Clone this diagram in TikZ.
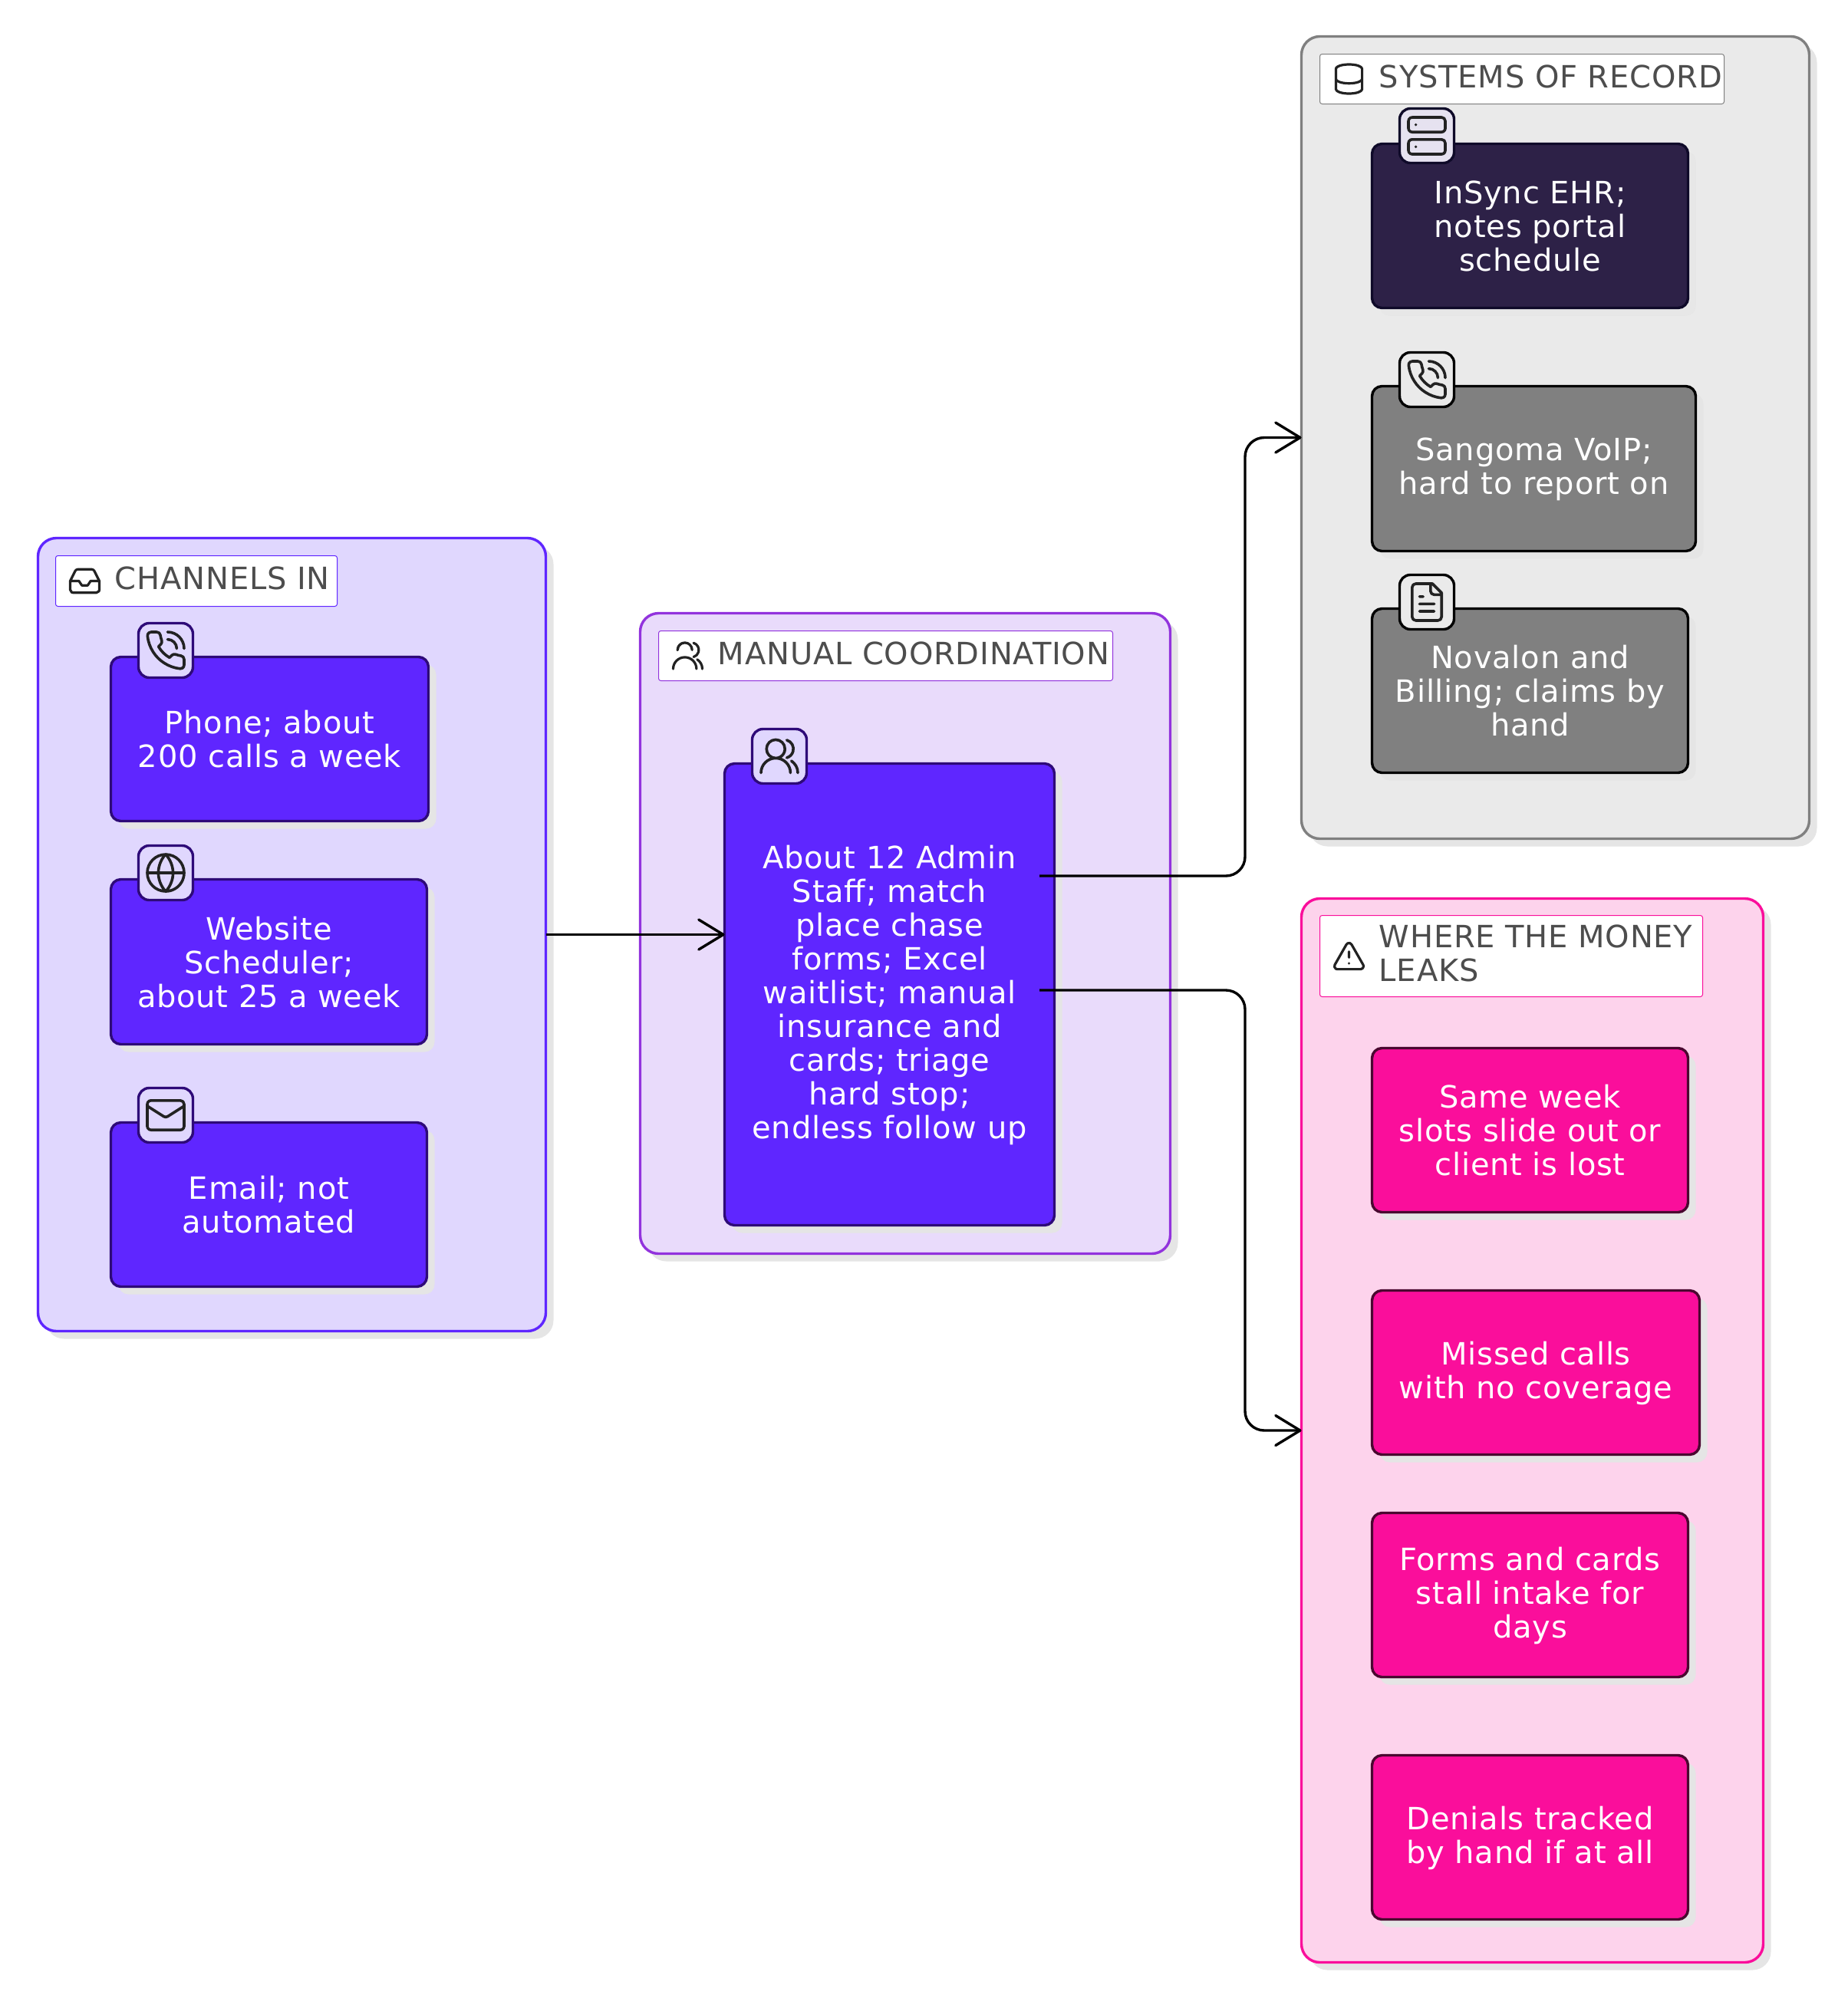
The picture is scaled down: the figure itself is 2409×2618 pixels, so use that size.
\documentclass[tikz,border=0pt]{standalone}
\usepackage{fontspec}
\setmainfont{DejaVu Sans}[LetterSpace=2]
\usetikzlibrary{arrows.meta,shadows,svg.path}
\definecolor{shadowc}{HTML}{E5E5E5}
\definecolor{vio}{HTML}{5F26FF}
\definecolor{vioD}{HTML}{2E0A78}
\definecolor{vioL}{HTML}{E0D7FE}
\definecolor{purL}{HTML}{E9DBFB}
\definecolor{pur}{HTML}{9233DD}
\definecolor{gryL}{HTML}{EAEAEA}
\definecolor{gry}{HTML}{808080}
\definecolor{navy}{HTML}{2D2147}
\definecolor{navyD}{HTML}{0F0A29}
\definecolor{navyI}{HTML}{E6E2F0}
\definecolor{pnk}{HTML}{FA0E9B}
\definecolor{pnkL}{HTML}{FDD3EC}
\definecolor{pnkD}{HTML}{4A0830}
\definecolor{labtxt}{HTML}{4D4D4D}
\definecolor{icn}{HTML}{222222}
\tikzset{
  cont/.style={draw=#1,line width=1.7pt,rounded corners=12pt,outer sep=0pt,inner sep=0pt,
    general shadow={fill=shadowc,shadow xshift=5pt,shadow yshift=-5pt}},
  card/.style={line width=1.7pt,rounded corners=6.5pt,outer sep=0pt,inner sep=0pt,text=white,align=center,
    font=\fontsize{20pt}{22pt}\selectfont,
    general shadow={fill=shadowc,shadow xshift=5pt,shadow yshift=-5pt}},
  lab/.style={fill=white,draw=#1,line width=0.5pt,rounded corners=1.5pt,outer sep=0pt,inner sep=0pt},
  labtext/.style={text=labtxt,align=left,inner sep=0pt,font=\fontsize{20pt}{22pt}\selectfont},
  ibox/.style 2 args={fill=#1,draw=#2,line width=1.7pt,rounded corners=7pt,minimum size=35.5pt,inner sep=0pt,outer sep=0pt},
  ic/.style={draw=icn,line width=#1,line cap=round,line join=round},
  ic/.default=1.7pt,
  edge/.style={draw=black,line width=1.7pt,rounded corners=12.5pt,-{Straight Barb[length=16pt,width=19.5pt,round,line width=1.7pt]}}
}
\newcommand{\TT}[1]{\rule{0pt}{16pt}#1\rule[-1pt]{0pt}{1pt}}
\newcommand{\boxat}[7]{%
  \pgfmathsetmacro\cxv{(#3+#5)/2}\pgfmathsetmacro\cyv{(#4+#6)/2}%
  \pgfmathsetmacro\wv{(#5-#3-3)/2}\pgfmathsetmacro\hv{(#6-#4-3)/2}%
  \node[#1,minimum width=\wv pt,minimum height=\hv pt] (#2) at (\cxv,\cyv) {#7};}
% glyphs in a 24 unit box, y downward
\newcommand{\gPhone}[1]{\draw[ic=#1] svg {M13 2a9 9 0 0 1 9 9M13 6a5 5 0 0 1 5 5M22 16.92v3a2 2 0 0 1 -2.18 2 19.79 19.79 0 0 1 -8.63 -3.07 19.5 19.5 0 0 1 -6 -6 19.79 19.79 0 0 1 -3.07 -8.67A2 2 0 0 1 4.11 2h3a2 2 0 0 1 2 1.72 12.84 12.84 0 0 0 0.7 2.81 2 2 0 0 1 -0.45 2.11L8.09 9.91a16 16 0 0 0 6 6l1.27 -1.27a2 2 0 0 1 2.11 -0.45 12.84 12.84 0 0 0 2.81 0.7A2 2 0 0 1 22 16.92z};}
\newcommand{\gGlobe}[1]{\draw[ic=#1] svg {M2 12a10 10 0 1 0 20 0a10 10 0 1 0 -20 0zM2 12h20M12 2a15.3 15.3 0 0 1 4 10 15.3 15.3 0 0 1 -4 10 15.3 15.3 0 0 1 -4 -10 15.3 15.3 0 0 1 4 -10z};}
\newcommand{\gMail}[1]{\draw[ic=#1] svg {M4 4h16a2 2 0 0 1 2 2v12a2 2 0 0 1 -2 2H4a2 2 0 0 1 -2 -2V6a2 2 0 0 1 2 -2zM22 7l-8.97 5.7a1.94 1.94 0 0 1 -2.06 0L2 7};}
\newcommand{\gUsers}[1]{\draw[ic=#1] svg {M5 8a5 5 0 1 0 10 0a5 5 0 1 0 -10 0zM2 21a8 8 0 0 1 16 0M16 3.2a5 5 0 0 1 0 9.6M22 21c0 -3 -1.5 -5 -3.5 -6.5};}
\newcommand{\gInbox}[1]{\draw[ic=#1] svg {M22 12H16L14 15H10L8 12H2M5.45 5.11L2 12v6a2 2 0 0 0 2 2h16a2 2 0 0 0 2 -2v-6l-3.45 -6.89A2 2 0 0 0 16.76 4H7.24a2 2 0 0 0 -1.79 1.11z};}
\newcommand{\gDb}[1]{\draw[ic=#1] svg {M3 5a9 3 0 1 0 18 0a9 3 0 1 0 -18 0zM3 5V19A9 3 0 0 0 21 19V5M3 12A9 3 0 0 0 21 12};}
\newcommand{\gServer}[1]{\draw[ic=#1] svg {M4 2h16a2 2 0 0 1 2 2v4a2 2 0 0 1 -2 2H4a2 2 0 0 1 -2 -2V4a2 2 0 0 1 2 -2zM4 14h16a2 2 0 0 1 2 2v4a2 2 0 0 1 -2 2H4a2 2 0 0 1 -2 -2v-4a2 2 0 0 1 2 -2zM6 6h0.01M6 18h0.01};}
\newcommand{\gFile}[1]{\draw[ic=#1] svg {M15 2H6a2 2 0 0 0 -2 2v16a2 2 0 0 0 2 2h12a2 2 0 0 0 2 -2V7zM14 2v4a2 2 0 0 0 2 2h4M10 9H8M16 13H8M16 17H8};}
\newcommand{\gWarn}[1]{\draw[ic=#1] svg {M21.73 18l-8 -14a2 2 0 0 0 -3.48 0l-8 14A2 2 0 0 0 4 21h16a2 2 0 0 0 1.73 -3M12 9v4M12 17h0.01};}
% icon badge: fill, border, name, cx, cy, glyph
\newcommand{\badge}[6]{%
  \node[ibox={#1}{#2}] (#3) at (#4,#5) {};
  \begin{scope}[shift={(#4,#5)},xscale=1.2,yscale=-1.2,shift={(-12pt,-12pt)}]#6{1.8pt}\end{scope}}
% label: colour, name, x1,y1,x2,y2, glyph, text
\newcommand{\labelbar}[8]{%
  \boxat{lab=#1}{#2}{#3}{#4}{#5}{#6}{}
  \node[labtext,anchor=west] (#2t) at ([shift={(77,-4)}]#2.west) {\TT{#8}};
  \begin{scope}[shift={([xshift=19pt]#2.west)},xscale=0.95,yscale=-0.95,shift={(-12pt,-12pt)}]#7{1.6pt}\end{scope}}
\begin{document}
\begin{tikzpicture}[x=0.5pt,y=-0.5pt]
\useasboundingbox (0,0) rectangle (2409,2618);
% containers
\boxat{cont=vio,fill=vioL}{channels}{48}{700}{713}{1737}{}
\boxat{cont=pur,fill=purL}{manual}{833}{798}{1527}{1636}{}
\boxat{cont=gry,fill=gryL}{systems}{1695}{46}{2360}{1095}{}
\boxat{cont=pnk,fill=pnkL}{leaks}{1695}{1170}{2300}{2560}{}
% labels
\labelbar{vio}{labA}{71}{723}{441}{792}{\gInbox}{CHANNELS IN}
\labelbar{pur}{labB}{857}{821}{1452}{889}{\gUsers}{MANUAL COORDINATION}
\labelbar{gry}{labC}{1719}{69}{2249}{137}{\gDb}{SYSTEMS OF RECORD}
\labelbar{pnk}{labD}{1719}{1192}{2221}{1301}{\gWarn}{WHERE THE MONEY\\LEAKS}
% channel cards
\boxat{card,fill=vio,draw=vioD}{phone}{143}{855}{560}{1072}{\TT{Phone; about\\200 calls a week}}
\boxat{card,fill=vio,draw=vioD}{web}{143}{1145}{558}{1363}{\TT{Website\\Scheduler;\\about 25 a week}}
\boxat{card,fill=vio,draw=vioD}{email}{143}{1462}{558}{1679}{\TT{Email; not\\automated}}
\badge{vioL}{vioD}{phoneI}{216}{848}{\gPhone}
\badge{vioL}{vioD}{webI}{216}{1138}{\gGlobe}
\badge{vioL}{vioD}{emailI}{216}{1454}{\gMail}
% coordination card
\boxat{card,fill=vio,draw=vioD}{mc}{943}{994}{1376}{1599}{\TT{About 12 Admin\\Staff; match\\place chase\\forms; Excel\\waitlist; manual\\insurance and\\cards; triage\\hard stop;\\endless follow up}}
\badge{vioL}{vioD}{mcI}{1016}{986}{\gUsers}
% system cards
\boxat{card,fill=navy,draw=navyD,general shadow={fill=shadowc!60!gryL,shadow xshift=5pt,shadow yshift=-5pt}}{ehr}{1787}{186}{2202}{403}{\TT{InSync EHR;\\notes portal\\schedule}}
\boxat{card,fill=gry,draw=black}{sang}{1787}{502}{2212}{720}{\TT{Sangoma VoIP;\\hard to report on}}
\boxat{card,fill=gry,draw=black}{nova}{1787}{792}{2202}{1009}{\TT{Novalon and\\Billing; claims by\\hand}}
\badge{navyI}{navyD}{ehrI}{1860}{177}{\gServer}
\badge{gryL}{black}{sangI}{1860}{495}{\gPhone}
\badge{gryL}{black}{novaI}{1860}{785}{\gFile}
% leak cards
\boxat{card,fill=pnk,draw=pnkD}{leakA}{1787}{1365}{2202}{1582}{\TT{Same week\\slots slide out or\\client is lost}}
\boxat{card,fill=pnk,draw=pnkD}{leakB}{1787}{1681}{2217}{1898}{\TT{Missed calls\\with no coverage}}
\boxat{card,fill=pnk,draw=pnkD}{leakC}{1787}{1971}{2202}{2188}{\TT{Forms and cards\\stall intake for\\days}}
\boxat{card,fill=pnk,draw=pnkD}{leakD}{1787}{2287}{2202}{2504}{\TT{Denials tracked\\by hand if at all}}
% connectors
\coordinate (outA) at (1355,1142);
\coordinate (outB) at (1355,1291);
\coordinate (bus) at (1623,0);
\draw[edge] (channels.east) -- (channels.east -| mc.west);
\draw[edge] (outA) -- (outA -| bus) -- (bus |- systems.west) -- (systems.west);
\draw[edge] (outB) -- (outB -| bus) -- (bus |- leaks.west) -- (leaks.west);
\end{tikzpicture}
\end{document}
